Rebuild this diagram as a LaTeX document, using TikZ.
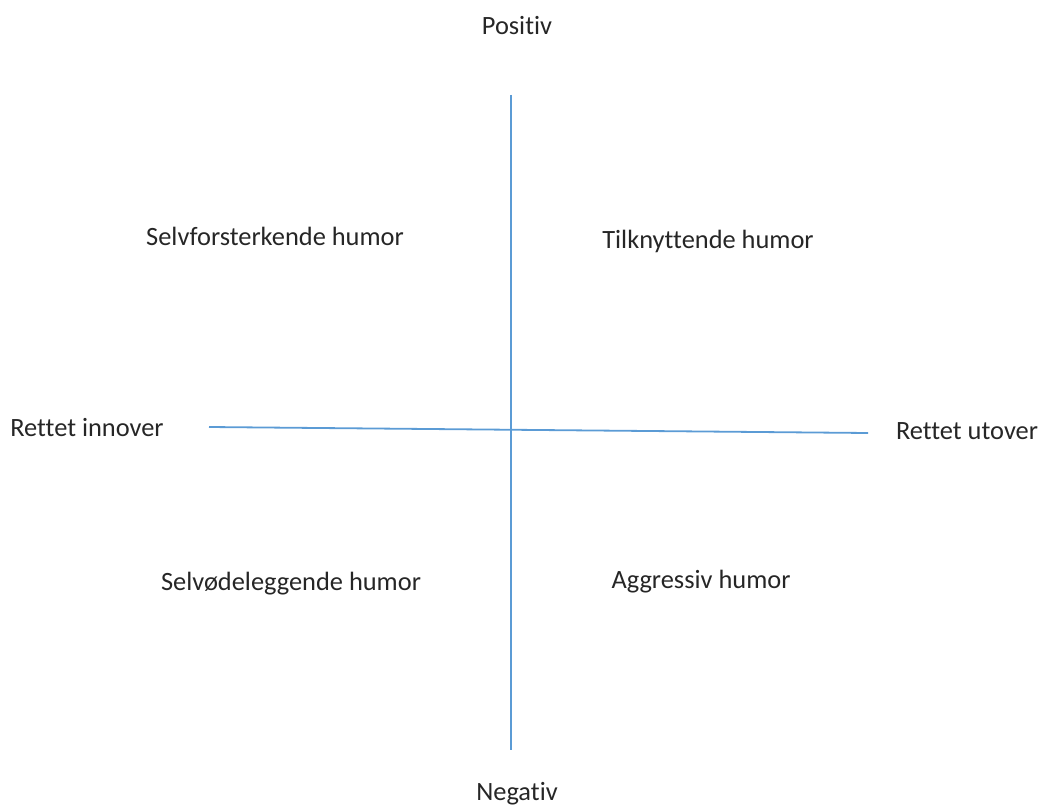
\documentclass[tikz,border=0pt]{standalone}
\usepackage{fontspec}
\setmainfont[Ligatures={NoCommon,NoRequired,NoContextual}]{Carlito}
\usepackage{xcolor}
\usetikzlibrary{positioning}

\definecolor{axisblue}{HTML}{5B9BD5}
\definecolor{textgray}{HTML}{262626}

\tikzset{
    lbl/.style={font=\fontsize{26.4}{31}\selectfont, text=textgray, anchor=base, inner sep=0pt},
    axisline/.style={draw=axisblue, line width=1.8pt}
}

\begin{document}
\begin{tikzpicture}[x=1pt, y=-1pt]
        \useasboundingbox (0,0) rectangle (1040,805);

        % Axes
        \coordinate (top) at (511,95);
        \coordinate (bottom) at (511,750);
        \coordinate (left) at (209,427);
        \coordinate (right) at (868,433);
        \draw[axisline] (top) -- (bottom);
        \draw[axisline] (left) -- (right);

        % Axis labels
        \node[lbl] (positiv) at (517,35) {Positiv};
        \node[lbl] (negativ) at (517,800) {Negativ};
        \node[lbl] (innover) at (87,436) {Rettet innover};
        \node[lbl] (utover) at (967,439) {Rettet utover};

        % Quadrants
        \node[lbl] (selvforst) at (275,245) {Selvforsterkende humor};
        \node[lbl] (tilknytt) at (708,248) {Tilknyttende humor};
        \node[lbl] (selvodel) at (291,590) {Selvødeleggende humor};
        \node[lbl] (aggr) at (701,588) {Aggressiv humor};
\end{tikzpicture}
\end{document}
